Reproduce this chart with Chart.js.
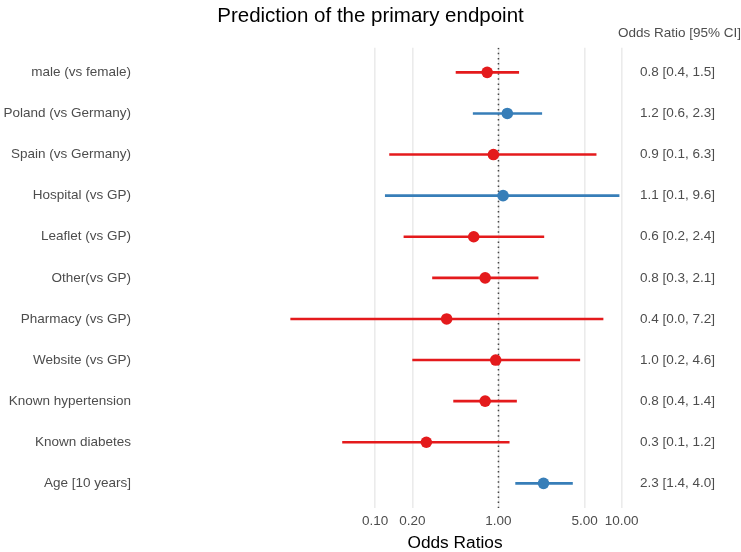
<!DOCTYPE html>
<html>
<head>
<meta charset="utf-8">
<script src="https://cdn.jsdelivr.net/npm/chart.js@4.4.0/dist/chart.umd.min.js"></script>
<style>
  html, body { margin: 0; padding: 0; background: #fff; }
  #wrap { position: relative; width: 741px; height: 552px; }
</style>
</head>
<body>
<div id="wrap"><canvas id="forest"></canvas></div>
<script>
// values (log scale)
const categories = ['male (vs female)', 'Poland (vs Germany)', 'Spain (vs Germany)', 'Hospital (vs GP)',
  'Leaflet (vs GP)', 'Other(vs GP)', 'Pharmacy (vs GP)', 'Website (vs GP)',
  'Known hypertension', 'Known diabetes', 'Age [10 years]'];
const oddsRatio = [0.81, 1.18, 0.91, 1.09, 0.63, 0.78, 0.38, 0.95, 0.78, 0.26, 2.32];
const ciLower = [0.45, 0.62, 0.13, 0.12, 0.17, 0.29, 0.0205, 0.20, 0.43, 0.054, 1.37];
const ciUpper = [1.47, 2.26, 6.24, 9.58, 2.35, 2.11, 7.1, 4.6, 1.41, 1.23, 4.01];
const orLabels = ['0.8 [0.4, 1.5]', '1.2 [0.6, 2.3]', '0.9 [0.1, 6.3]', '1.1 [0.1, 9.6]',
  '0.6 [0.2, 2.4]', '0.8 [0.3, 2.1]', '0.4 [0.0, 7.2]', '1.0 [0.2, 4.6]',
  '0.8 [0.4, 1.4]', '0.3 [0.1, 1.2]', '2.3 [1.4, 4.0]'];
const xTicks = [0.1, 0.2, 1, 5, 10];

const RED = '#E41A1C';
const BLUE = '#377EB8';
const FONT = "'Liberation Sans', Arial, Helvetica, sans-serif";
const colorFor = i => oddsRatio[i] > 1 ? BLUE : RED;

const datasets = [];

// error bars, one small line per row
categories.forEach((c, i) => {
  datasets.push({
    type: 'line',
    data: [{x: ciLower[i], y: i + 1}, {x: ciUpper[i], y: i + 1}],
    borderColor: colorFor(i),
    borderWidth: 2.6,
    borderCapStyle: 'butt',
    pointRadius: 0,
    order: 2
  });
});

// the points
datasets.push({
  type: 'scatter',
  data: oddsRatio.map((v, i) => ({x: v, y: i + 1})),
  pointBackgroundColor: oddsRatio.map((v, i) => colorFor(i)),
  pointBorderWidth: 0,
  pointRadius: 5.8,
  order: 1
});

// reference line at OR = 1
datasets.push({
  type: 'line',
  data: [{x: 1, y: 0.4}, {x: 1, y: 11.6}],
  borderColor: '#444444',
  borderWidth: 1.5,
  borderDash: [1.5, 3.6],
  pointRadius: 0,
  order: 3
});

const rowTicks = axis => { axis.ticks = categories.map((c, i) => ({value: i + 1})); };
// fixed width, and no extra top/bottom room for the big label padding
const fixWidth = w => axis => {
  axis.width = w;
  axis.paddingTop = 0;
  axis.paddingBottom = 0;
};

new Chart(document.getElementById('forest'), {
  type: 'scatter',
  data: {datasets: datasets},
  options: {
    responsive: true,
    maintainAspectRatio: false,
    animation: false,
    layout: {padding: 0},
    plugins: {
      legend: {display: false},
      tooltip: {enabled: false},
      title: {
        display: true,
        text: 'Prediction of the primary endpoint',
        color: '#000',
        font: {family: FONT, size: 20.5, weight: 'normal', lineHeight: 1.0},
        padding: {top: 6, bottom: 0}
      },
      subtitle: {
        display: true,
        text: 'Odds Ratio [95% CI]',
        align: 'end',
        color: '#4d4d4d',
        font: {family: FONT, size: 13.5, lineHeight: 1.0},
        padding: {top: 0, bottom: 7.7}
      }
    },
    scales: {
      x: {
        type: 'logarithmic',
        min: 0.0151,
        max: 13.06,
        afterBuildTicks: axis => { axis.ticks = xTicks.map(v => ({value: v})); },
        ticks: {
          callback: v => Number(v).toFixed(2),
          color: '#4d4d4d',
          font: {family: FONT, size: 13.5},
          padding: 5,
          maxRotation: 0,
          autoSkip: false
        },
        grid: {color: '#ebebeb', lineWidth: 1.6, drawTicks: false},
        border: {display: false},
        title: {
          display: true,
          text: 'Odds Ratios',
          color: '#000',
          font: {family: FONT, size: 17.3, lineHeight: 1.0},
          padding: {top: 0, bottom: 0.5}
        }
      },
      y: {
        type: 'linear',
        reverse: true,
        min: 0.4,
        max: 11.6,
        afterBuildTicks: rowTicks,
        afterFit: fixWidth(274),
        ticks: {
          callback: v => categories[v - 1],
          color: '#4d4d4d',
          font: {family: FONT, size: 13.5},
          padding: 143,
          autoSkip: false
        },
        grid: {display: false, drawTicks: false},
        border: {display: false}
      },
      y2: {
        type: 'linear',
        position: 'right',
        reverse: true,
        min: 0.4,
        max: 11.6,
        afterBuildTicks: rowTicks,
        afterFit: fixWidth(105),
        ticks: {
          callback: v => orLabels[v - 1],
          color: '#4d4d4d',
          font: {family: FONT, size: 13.5},
          padding: 4,
          autoSkip: false
        },
        grid: {display: false, drawTicks: false},
        border: {display: false}
      }
    }
  }
});
</script>
</body>
</html>
